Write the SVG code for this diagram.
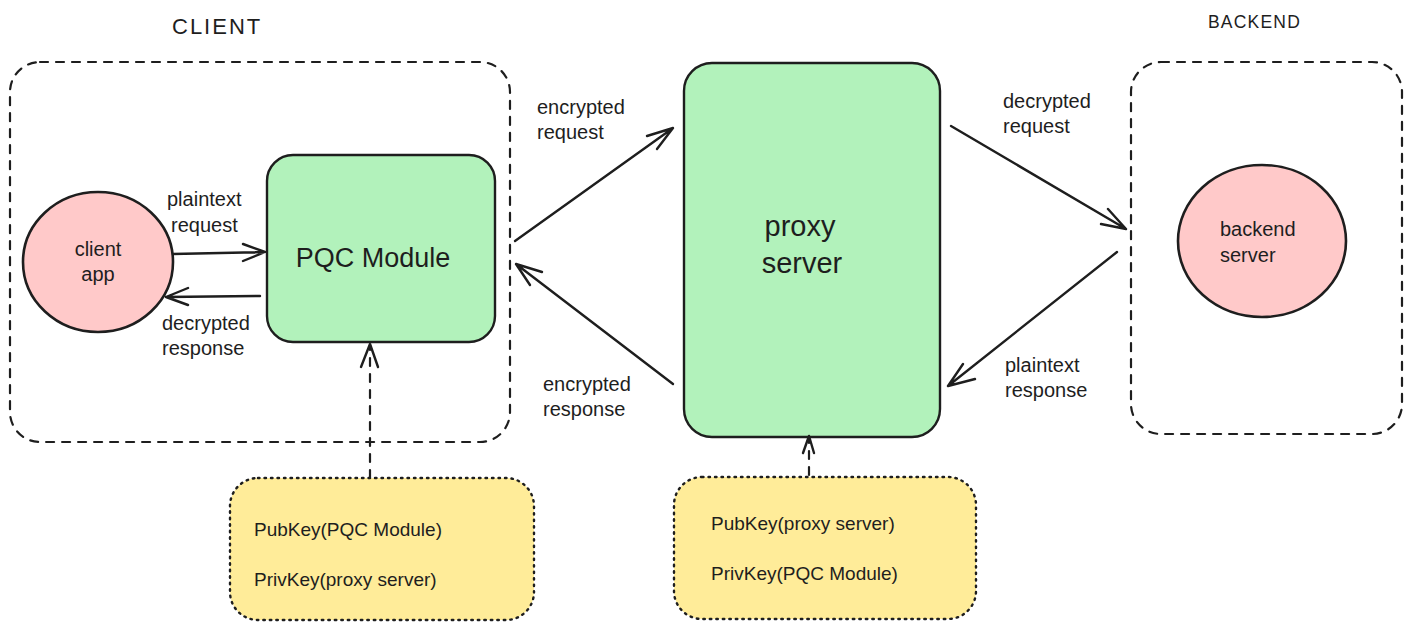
<svg xmlns="http://www.w3.org/2000/svg" width="1412" height="630" viewBox="0 0 1412 630">
<style>
.bg{fill:#ffffff}
.dash{fill:none;stroke:#1e1e1e;stroke-width:2.2;stroke-dasharray:8 8;stroke-linecap:round}
.green{fill:#b2f2bb;stroke:#1e1e1e;stroke-width:2.4}
.pink{fill:#ffc9c9;stroke:#1e1e1e;stroke-width:2.6}
.yellow{fill:#ffec99;stroke:#1e1e1e;stroke-width:2.4;stroke-dasharray:1.5 5;stroke-linecap:round}
.line{fill:none;stroke:#1e1e1e;stroke-width:2.4;stroke-linecap:round;stroke-linejoin:round}
.dline{fill:none;stroke:#1e1e1e;stroke-width:2.2;stroke-dasharray:8 8;stroke-linecap:round}
text{font-family:"Liberation Sans","Noto Sans",sans-serif;fill:#1e1e1e}
.lbl{font-size:20px}
.key{font-size:19px}
.big{font-size:27px}
.title{font-size:22px;letter-spacing:2px}
</style>
<rect class="bg" x="0" y="0" width="1412" height="630"/>

<g id="client-group">
<rect class="dash" x="10" y="62" width="500" height="380" rx="30" ry="30"/>
<text class="title" x="172" y="34">CLIENT</text>
</g>

<g id="backend-group">
<rect class="dash" x="1131" y="62" width="271" height="372" rx="30" ry="30"/>
<text class="title" x="1208" y="28" style="font-size:17.5px;letter-spacing:1.2px">BACKEND</text>
</g>

<g id="client-app">
<ellipse class="pink" cx="98" cy="262" rx="75" ry="70"/>
<text class="lbl" x="98" y="256" text-anchor="middle">client</text>
<text class="lbl" x="98" y="281" text-anchor="middle">app</text>
</g>

<g id="pqc-module">
<rect class="green" x="267" y="155" width="228" height="187" rx="26" ry="26"/>
<text class="big" x="373" y="267" text-anchor="middle">PQC Module</text>
</g>

<g id="proxy-server">
<rect class="green" x="684" y="63" width="256" height="374" rx="28" ry="28"/>
<text class="big" x="800" y="236" text-anchor="middle" style="font-size:29px">proxy</text>
<text class="big" x="802" y="273" text-anchor="middle" style="font-size:29px">server</text>
</g>

<g id="backend-server">
<ellipse class="pink" cx="1262" cy="241" rx="84" ry="76"/>
<text class="lbl" x="1220" y="236">backend</text>
<text class="lbl" x="1220" y="262">server</text>
</g>

<g id="keys-client">
<rect class="yellow" x="230" y="478" width="304" height="142" rx="28" ry="28"/>
<text class="key" x="254" y="536">PubKey(PQC Module)</text>
<text class="key" x="254" y="586">PrivKey(proxy server)</text>
</g>

<g id="keys-proxy">
<rect class="yellow" x="674" y="477" width="302" height="142" rx="28" ry="28"/>
<text class="key" x="711" y="530">PubKey(proxy server)</text>
<text class="key" x="711" y="580">PrivKey(PQC Module)</text>
</g>

<g id="connectors">
<!-- plaintext request -->
<path class="line" d="M173 254 L265 252 M243 244 L265 252 L243 261"/>
<!-- decrypted response -->
<path class="line" d="M260 296 L166 297 M188 288 L166 297 L188 305"/>
<!-- encrypted request -->
<path class="line" d="M515 241 L673 128 M647 136 L673 128 L657 149"/>
<!-- encrypted response -->
<path class="line" d="M673 384 L516 264 M542 272 L516 264 L530 285"/>
<!-- decrypted request -->
<path class="line" d="M951 126 L1126 229 M1108 209 L1126 229 L1101 224"/>
<!-- plaintext response -->
<path class="line" d="M1117 252 L948 386 M963 364 L948 386 L975 379"/>
<!-- key arrows -->
<path class="dline" d="M370 478 L370 345"/>
<path class="line" d="M361 367 L370 344 L378 367"/>
<path class="dline" d="M809 475 L809 437"/>
<path class="line" d="M803 453 L809 436 L814 453"/>
</g>

<g id="labels">
<text class="lbl" x="167" y="206">plaintext</text>
<text class="lbl" x="171" y="232">request</text>
<text class="lbl" x="162" y="330">decrypted</text>
<text class="lbl" x="162" y="355">response</text>
<text class="lbl" x="537" y="114">encrypted</text>
<text class="lbl" x="537" y="139">request</text>
<text class="lbl" x="543" y="391">encrypted</text>
<text class="lbl" x="543" y="416">response</text>
<text class="lbl" x="1003" y="108">decrypted</text>
<text class="lbl" x="1003" y="133">request</text>
<text class="lbl" x="1005" y="372">plaintext</text>
<text class="lbl" x="1005" y="397">response</text>
</g>
</svg>
